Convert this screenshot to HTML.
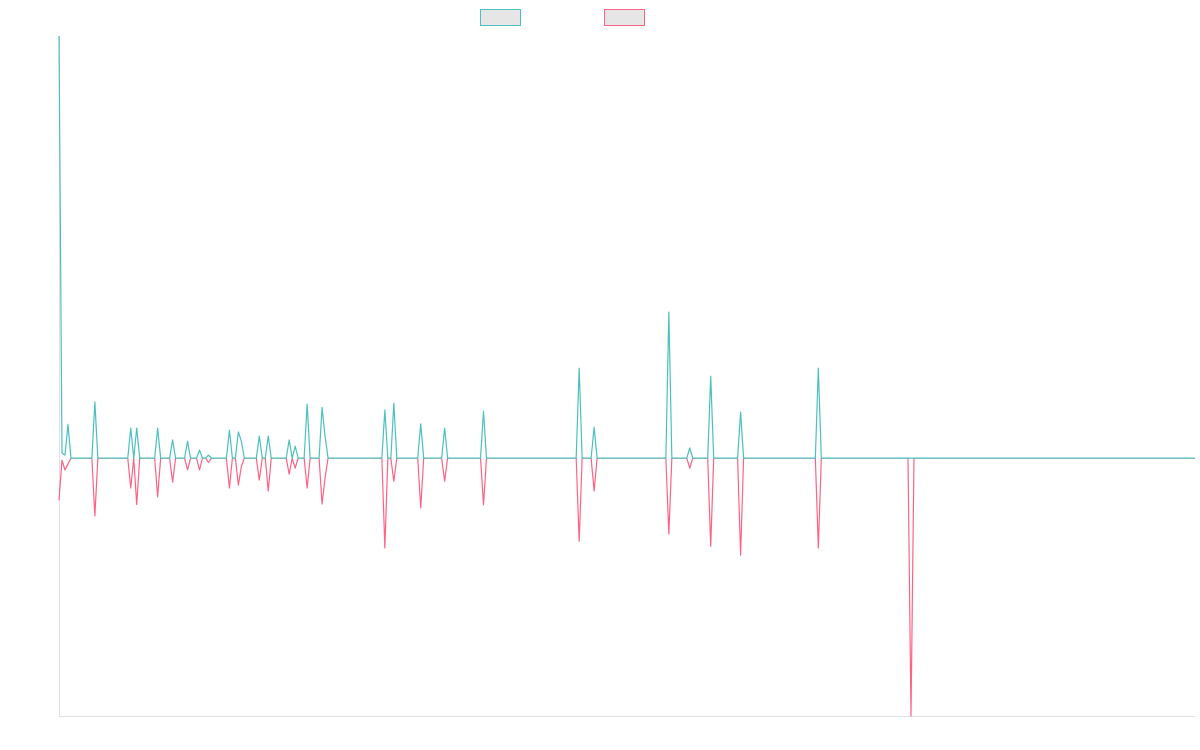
<!DOCTYPE html>
<html><head><meta charset="utf-8">
<style>
html,body{margin:0;padding:0;background:#fff;}
svg{display:block;}
</style></head>
<body>
<svg id="chart" width="1200" height="750">
  <rect x="480.5" y="9.5" width="40" height="16" fill="#e6e6e6" stroke="rgb(75,192,192)"/>
  <rect x="604.5" y="9.5" width="40" height="16" fill="#e6e6e6" stroke="rgb(255,99,132)"/>
  <line x1="59.5" y1="36" x2="59.5" y2="716" stroke="#e0e0e0"/>
  <line x1="59" y1="716.5" x2="1195" y2="716.5" stroke="#e0e0e0"/>
  <g id="series"></g>
</svg>
<script>
const pointCount = 381;
const spikeIndex = [0,1,2,3,12,24,26,33,38,43,47,50,57,60,61,67,70,77,79,83,88,89,109,112,121,129,142,174,179,204,211,218,228,254,285];
const tealValues = [100,1.2,0.7,8,13.3,7.1,7.1,7.1,4.3,4,1.9,0.7,6.6,6.2,4,5.2,5.2,4.3,2.8,12.8,12,5.2,11.4,13,8.1,7.1,11.1,21.3,7.3,34.6,2.4,19.4,10.9,21.3,0];
const pinkValues = [-10,-0.5,-2.8,-1.4,-13.7,-7.1,-11,-9.2,-5.7,-2.8,-2.8,-1,-7.1,-6.4,-2,-5.2,-7.8,-3.8,-2.4,-7.1,-10.9,-4.7,-21.3,-5.5,-11.8,-5.5,-11.1,-19.7,-7.8,-18,-2.4,-20.9,-23,-21.3,-61.1];
const yMax = 100, yMin = -61.1;

const plotLeft = 59, plotRight = 1195, plotTop = 36, plotBottom = 716;
function xScale(i){ return plotLeft + i * (plotRight - plotLeft) / (pointCount - 1); }
function yScale(v){ return plotTop + (yMax - v) * (plotBottom - plotTop) / (yMax - yMin); }

function expand(vals){
  const arr = new Array(pointCount).fill(0);
  spikeIndex.forEach((idx, k) => { arr[idx] = vals[k]; });
  return arr;
}
const seriesGroup = document.getElementById('series');
function draw(vals, color, name){
  const arr = expand(vals);
  const d = arr.map((v,i)=> (i?'L':'M') + xScale(i).toFixed(2) + ',' + yScale(v).toFixed(2)).join(' ');
  const p = document.createElementNS('http://www.w3.org/2000/svg','path');
  p.setAttribute('d', d);
  p.setAttribute('fill','none');
  p.setAttribute('stroke', color);
  p.setAttribute('stroke-width','1.2');
  p.setAttribute('stroke-linejoin','round');
  
  
  seriesGroup.appendChild(p);
}
draw(pinkValues, 'rgb(255,99,132)', 'pink-series-line');
draw(tealValues, 'rgb(75,192,192)', 'teal-series-line');
</script>
</body></html>
